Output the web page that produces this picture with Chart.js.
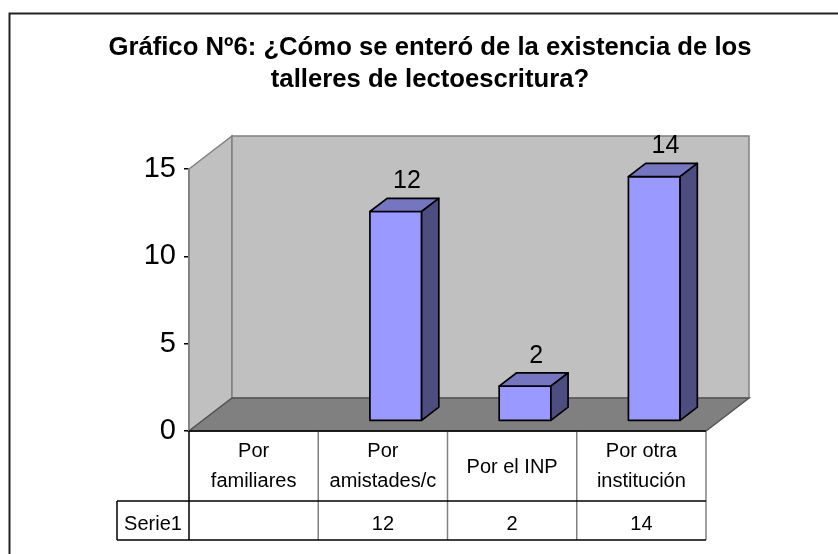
<!DOCTYPE html>
<html>
<head>
<meta charset="utf-8">
<script src="https://cdn.jsdelivr.net/npm/chart.js@4"></script>
<style>
  body { margin: 0; background: #fff; }
</style>
</head>
<body>
<canvas id="grafico" width="838" height="554"></canvas>
<script>
const titulo = ['Gráfico Nº6: ¿Cómo se enteró de la existencia de los', 'talleres de lectoescritura?'];
const categorias = [['Por', 'familiares'], ['Por', 'amistades/c'], ['Por el INP'], ['Por otra', 'institución']];
const nombreSerie = 'Serie1';
const serie1 = [null, 12, 2, 14];
const ticksY = [0, 5, 10, 15];

const fuente = '"Liberation Sans", Arial, sans-serif';
// profundidad del 3D
const profX = 43, profY = -33;

const plugin3d = {
    id: 'plugin3d',
    beforeDraw(chart) {
        const c = chart.ctx;
        const a = chart.chartArea;
        c.save();
        c.fillStyle = '#fff';
        c.fillRect(0, 0, chart.width, chart.height);
        // borde exterior
        c.strokeStyle = '#222';
        c.lineWidth = 2;
        c.strokeRect(9.5, 13.5, 900, 600);
        // titulo
        c.fillStyle = '#000';
        c.font = 'bold 25.7px ' + fuente;
        c.textAlign = 'center';
        c.textBaseline = 'alphabetic';
        c.fillText(titulo[0], 430, 55);
        c.fillText(titulo[1], 430, 87);
        // paredes
        c.lineWidth = 1.5;
        c.strokeStyle = '#808080';
        c.fillStyle = '#C0C0C0';
        c.beginPath();
        c.moveTo(a.left, a.top);
        c.lineTo(a.left + profX, a.top + profY);
        c.lineTo(a.left + profX, a.bottom + profY);
        c.lineTo(a.left, a.bottom);
        c.closePath();
        c.fill(); c.stroke();
        c.fillRect(a.left + profX, a.top + profY, a.right - a.left, a.bottom - a.top);
        c.strokeRect(a.left + profX, a.top + profY, a.right - a.left, a.bottom - a.top);
        // piso
        c.fillStyle = '#808080';
        c.strokeStyle = '#555';
        c.beginPath();
        c.moveTo(a.left, a.bottom);
        c.lineTo(a.right, a.bottom);
        c.lineTo(a.right + profX, a.bottom + profY);
        c.lineTo(a.left + profX, a.bottom + profY);
        c.closePath();
        c.fill(); c.stroke();
        c.restore();
    },
    afterDatasetsDraw(chart) {
        const c = chart.ctx;
        const meta = chart.getDatasetMeta(0);
        const fx = profX * 0.3, fy = profY * 0.3;
        const bx = profX * 0.4, by = profY * 0.4;
        c.save();
        c.lineWidth = 1.7;
        c.strokeStyle = '#000';
        c.lineJoin = 'round';
        meta.data.forEach((el, i) => {
            const v = serie1[i];
            if (v === null || v === undefined) return;
            const x0 = el.x - el.width / 2 + fx;
            const x1 = el.x + el.width / 2 + fx;
            const y0 = el.y + fy;
            const y1 = el.base + fy;
            // cara frontal
            c.fillStyle = '#9999FF';
            c.fillRect(x0, y0, x1 - x0, y1 - y0);
            c.strokeRect(x0, y0, x1 - x0, y1 - y0);
            // cara superior
            c.fillStyle = '#7575C0';
            c.beginPath();
            c.moveTo(x0, y0);
            c.lineTo(x0 + bx, y0 + by);
            c.lineTo(x1 + bx, y0 + by);
            c.lineTo(x1, y0);
            c.closePath();
            c.fill(); c.stroke();
            // cara lateral
            c.fillStyle = '#4D4D80';
            c.beginPath();
            c.moveTo(x1, y0);
            c.lineTo(x1 + bx, y0 + by);
            c.lineTo(x1 + bx, y1 + by);
            c.lineTo(x1, y1);
            c.closePath();
            c.fill(); c.stroke();
            // etiqueta
            c.fillStyle = '#000';
            c.font = '25px ' + fuente;
            c.textAlign = 'center';
            c.textBaseline = 'alphabetic';
            c.fillText(String(v), el.x + 24, el.y - 33);
        });
        c.restore();
    },
    afterDraw(chart) {
        // tabla de datos
        const c = chart.ctx;
        const a = chart.chartArea;
        const xs = chart.scales.x;
        const n = categorias.length;
        const paso = (a.right - a.left) / n;
        const yTop = a.bottom, yMid = 501, yBot = 540, xSerie = 117;
        c.save();
        c.lineWidth = 1.5;
        // lineas verticales grises
        c.strokeStyle = '#808080';
        for (let i = 1; i <= n; i++) {
            const x = a.left + i * paso;
            c.beginPath(); c.moveTo(x, yTop); c.lineTo(x, yBot); c.stroke();
        }
        c.strokeStyle = '#000';
        c.beginPath();
        c.moveTo(a.left, yTop); c.lineTo(a.left, yBot);
        c.moveTo(a.left, yTop); c.lineTo(a.right, yTop);
        c.moveTo(xSerie, yMid); c.lineTo(a.right, yMid);
        c.moveTo(xSerie, yBot); c.lineTo(a.right, yBot);
        c.moveTo(xSerie, yMid); c.lineTo(xSerie, yBot);
        c.stroke();
        c.fillStyle = '#000';
        c.font = '20px ' + fuente;
        c.textAlign = 'center';
        c.textBaseline = 'alphabetic';
        categorias.forEach((lab, i) => {
            const cx = xs.getPixelForValue(i);
            if (lab.length === 2) {
                c.fillText(lab[0], cx, 457);
                c.fillText(lab[1], cx, 487);
            } else {
                c.fillText(lab[0], cx, 473);
            }
            if (serie1[i] !== null) c.fillText(String(serie1[i]), cx, 530);
        });
        c.fillText(nombreSerie, (xSerie + a.left) / 2, 530);
        c.restore();
    }
};

new Chart(document.getElementById('grafico'), {
    type: 'bar',
    data: {
        labels: categorias,
        datasets: [{
            label: nombreSerie,
            data: serie1,
            backgroundColor: 'rgba(0,0,0,0)',
            borderWidth: 0,
            barPercentage: 0.4,
            categoryPercentage: 1
        }]
    },
    options: {
        responsive: false,
        animation: false,
        devicePixelRatio: 1,
        layout: { padding: { top: 169, left: 0, right: 132, bottom: 123 } },
        plugins: {
            legend: { display: false },
            title: { display: false },
            tooltip: { enabled: false }
        },
        scales: {
            x: { display: false, offset: true },
            y: {
                min: ticksY[0],
                max: ticksY[ticksY.length - 1],
                afterFit(s) { s.width = 189; },
                afterBuildTicks(s) { s.ticks = ticksY.map(v => ({ value: v })); },
                ticks: { color: '#000', font: { size: 29, family: fuente }, padding: 8 },
                grid: { drawOnChartArea: false, drawTicks: true, tickLength: 5, color: '#000', lineWidth: 1.5 },
                border: { display: true, color: '#808080', width: 1.5 }
            }
        }
    },
    plugins: [plugin3d]
});
</script>
</body>
</html>
